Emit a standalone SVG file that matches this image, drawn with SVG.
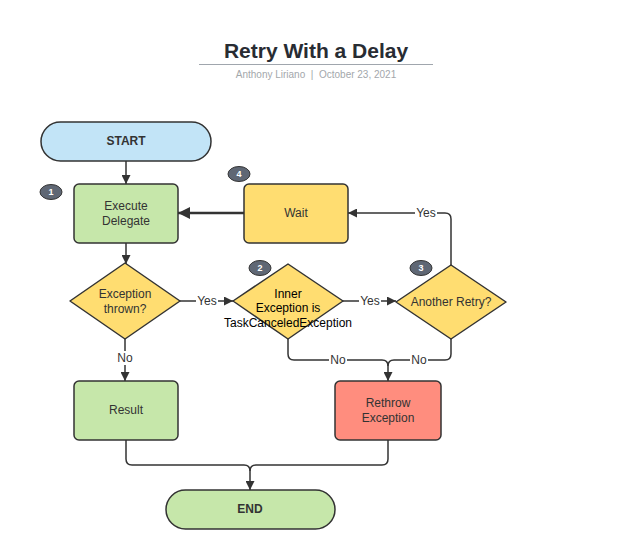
<svg xmlns="http://www.w3.org/2000/svg" width="628" height="557" viewBox="0 0 628 557">
<defs>
<marker id="arr" viewBox="0 0 10 10" refX="10" refY="5" markerWidth="9" markerHeight="9" markerUnits="userSpaceOnUse" orient="auto">
<path d="M0,0 L10,5 L0,10 Z" fill="#333"/>
</marker>
<marker id="arrBig" viewBox="0 0 10 10" refX="10" refY="5" markerWidth="12" markerHeight="12" markerUnits="userSpaceOnUse" orient="auto">
<path d="M0,0 L10,5 L0,10 Z" fill="#333"/>
</marker>
</defs>
<style>
.node{stroke:#333;stroke-width:1.5}
.green{fill:#c6e7aa}
.yellow{fill:#ffdd71}
.blue{fill:#c2e4f7}
.red{fill:#ff8d7e}
.t{font-family:"Liberation Sans",Arial,sans-serif;font-size:12px;fill:#333;text-anchor:middle}
.b{font-weight:bold}
.k{fill:#000}
.badge{fill:#5f6774;stroke:#333;stroke-width:1}
.bt{font-family:"Liberation Sans",Arial,sans-serif;font-size:9px;font-weight:bold;fill:#fff;text-anchor:middle}
.c{fill:none;stroke:#333;stroke-width:1.5}
.lbl{font-family:"Liberation Sans",Arial,sans-serif;font-size:12px;fill:#333;text-anchor:middle}
.lblbg{fill:#fff}
</style>
<rect width="628" height="557" fill="#fff"/>
<g id="title">
<text x="316" y="58" font-family="Liberation Sans,Arial,sans-serif" font-size="21" font-weight="bold" fill="#282c33" text-anchor="middle">Retry With a Delay</text>
<line x1="199" y1="64.5" x2="433" y2="64.5" stroke="#a0a6ad" stroke-width="1"/>
<text x="316" y="78" font-family="Liberation Sans,Arial,sans-serif" font-size="10" fill="#a3a7ab" text-anchor="middle" xml:space="preserve">Anthony Liriano  |  October 23, 2021</text>
</g>
<g id="connectors">
<path class="c" d="M126,161 V184" marker-end="url(#arr)"/>
<path class="c" d="M126,243 V264" marker-end="url(#arr)"/>
<path d="M244,213 H178" fill="none" stroke="#333" stroke-width="2.5" marker-end="url(#arrBig)"/>
<path class="c" d="M180,301 H233" marker-end="url(#arr)"/>
<path class="c" d="M343,301 H396" marker-end="url(#arr)"/>
<path class="c" d="M451,265 V219 Q451,213 445,213 H348" marker-end="url(#arr)"/>
<path class="c" d="M125,339 V381" marker-end="url(#arr)"/>
<path class="c" d="M288,339 V354 Q288,360 294,360 H382 Q388,360 388,366 V381" marker-end="url(#arr)"/>
<path class="c" d="M451,339 V354 Q451,360 445,360 H394 Q388,360 388,366"/>
<path class="c" d="M126,440 V459 Q126,465 132,465 H244 Q250,465 250,471 V490" marker-end="url(#arr)"/>
<path class="c" d="M388,440 V459 Q388,465 382,465 H256 Q250,465 250,471"/>
<rect class="lblbg" x="196" y="294" width="22" height="14"/>
<text class="lbl" x="207" y="305">Yes</text>
<rect class="lblbg" x="359" y="294" width="22" height="14"/>
<text class="lbl" x="370" y="305">Yes</text>
<rect class="lblbg" x="415" y="206" width="22" height="14"/>
<text class="lbl" x="426" y="217">Yes</text>
<rect class="lblbg" x="116" y="351" width="18" height="14"/>
<text class="lbl" x="125" y="362">No</text>
<rect class="lblbg" x="329" y="353" width="18" height="14"/>
<text class="lbl" x="338" y="364">No</text>
<rect class="lblbg" x="410" y="353" width="18" height="14"/>
<text class="lbl" x="419" y="364">No</text>
</g>
<g id="start">
<rect class="node blue" x="41" y="122" width="170" height="39" rx="19.5"/>
<text class="t b" x="126" y="145">START</text>
</g>
<g id="execute">
<rect class="node green" x="74" y="184" width="104" height="59" rx="5"/>
<text class="t" x="126" y="210">Execute</text>
<text class="t" x="126" y="225">Delegate</text>
<ellipse class="badge" cx="51" cy="192" rx="11" ry="7.5"/>
<text class="bt" x="51" y="195">1</text>
</g>
<g id="wait">
<rect class="node yellow" x="244" y="184" width="104" height="59" rx="5"/>
<text class="t" x="296" y="217">Wait</text>
<ellipse class="badge" cx="239" cy="174" rx="11" ry="7.5"/>
<text class="bt" x="239" y="177">4</text>
</g>
<g id="thrown">
<path class="node yellow" d="M125,263 L180,301 L125,339 L70,301 Z" stroke-linejoin="round"/>
<text class="t" x="125" y="298">Exception</text>
<text class="t" x="125" y="313">thrown?</text>
</g>
<g id="inner">
<path class="node yellow" d="M288,264 L343,301 L288,339 L233,301 Z" stroke-linejoin="round"/>
<text class="t k" x="288" y="298">Inner</text>
<text class="t k" x="288" y="312">Exception is</text>
<text class="t k" x="288" y="327">TaskCanceledException</text>
<ellipse class="badge" cx="260" cy="268" rx="11" ry="7.5"/>
<text class="bt" x="260" y="271">2</text>
</g>
<g id="retry">
<path class="node yellow" d="M451,265 L506,302 L451,339 L396,302 Z" stroke-linejoin="round"/>
<text class="t" x="451" y="306">Another Retry?</text>
<ellipse class="badge" cx="421" cy="268" rx="11" ry="7.5"/>
<text class="bt" x="421" y="271">3</text>
</g>
<g id="result">
<rect class="node green" x="74" y="381" width="104" height="59" rx="5"/>
<text class="t" x="126" y="414">Result</text>
</g>
<g id="rethrow">
<rect class="node red" x="335" y="381" width="106" height="59" rx="5"/>
<text class="t" x="388" y="407">Rethrow</text>
<text class="t" x="388" y="422">Exception</text>
</g>
<g id="end">
<rect class="node green" x="166" y="490" width="169" height="39" rx="19.5"/>
<text class="t b" x="250" y="513">END</text>
</g>
</svg>
